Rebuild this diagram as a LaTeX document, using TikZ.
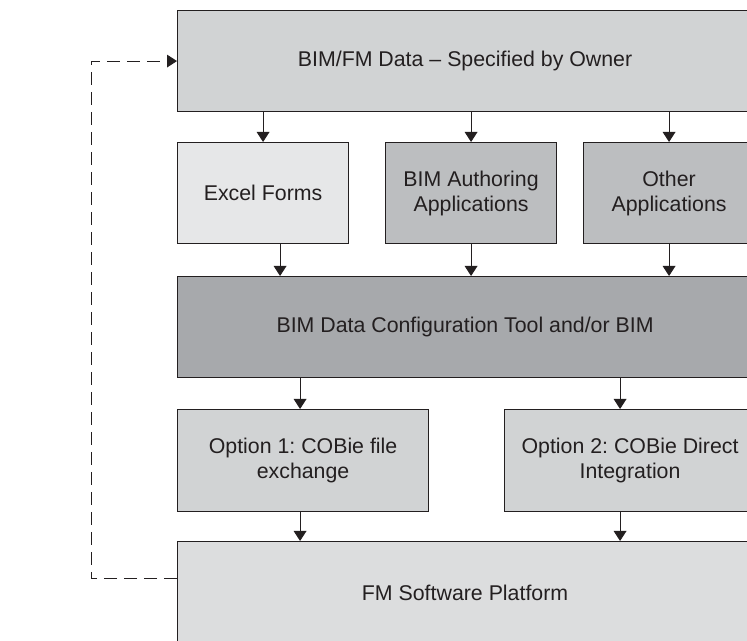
\documentclass[tikz,border=0pt]{standalone}
\usepackage{fontspec}
\setmainfont{Liberation Sans}
\usetikzlibrary{arrows.meta}
\usetikzlibrary{calc}
\frenchspacing
\definecolor{boxline}{RGB}{35,31,32}
\definecolor{txtcol}{RGB}{35,31,32}
\definecolor{ownerfill}{RGB}{209,211,212}
\definecolor{excelfill}{RGB}{230,231,232}
\definecolor{appfill}{RGB}{188,190,192}
\definecolor{configfill}{RGB}{167,169,172}
\definecolor{optionfill}{RGB}{209,211,212}
\definecolor{fmfill}{RGB}{220,221,222}

\begin{document}
\begin{tikzpicture}[x=0.75pt,y=0.75pt,yscale=-1,xscale=1,
  box/.style={draw=boxline, line width=0.85pt, rectangle, inner sep=0pt, anchor=north west,
    minimum height=75.75pt, align=center, text=txtcol, font=\fontsize{16}{18.75}\selectfont},
  arr/.style={draw=boxline, line width=0.75pt, -{Triangle[width=9.5pt,length=7.5pt]}},
  loopline/.style={draw=boxline, line width=0.75pt, dash pattern=on 10pt off 5pt, -{Triangle[width=9.5pt,length=7.5pt]}}]
\useasboundingbox (0,0) rectangle (747,641);
\clip (0,0) rectangle (747,641);
%Shape: Rectangle
\node[box, fill=ownerfill, minimum width=431.25pt] (owner) at (177,10) {BIM/FM Data -- Specified by Owner};
%Shape: Rectangle
\node[box, fill=excelfill, minimum width=128.25pt] (excel) at (177,142) {Excel Forms};
%Shape: Rectangle
\node[box, fill=appfill, minimum width=128.25pt] (authoring) at (385,142) {BIM Authoring\\Applications};
%Shape: Rectangle
\node[box, fill=appfill, minimum width=128.25pt] (otherapps) at (583,142) {Other\\Applications};
%Shape: Rectangle
\node[box, fill=configfill, minimum width=431.25pt] (config) at (177,276) {BIM Data Configuration Tool and/or BIM};
%Shape: Rectangle
\node[box, fill=optionfill, minimum width=188.25pt, minimum height=76.5pt] (optfile) at (177,409) {Option 1: COBie file\\exchange};
%Shape: Rectangle
\node[box, fill=optionfill, minimum width=188.25pt, minimum height=76.5pt] (optdirect) at (504,409) {Option 2: COBie Direct\\Integration};
%Shape: Rectangle
\node[box, fill=fmfill, minimum width=431.25pt, minimum height=76.5pt] (fm) at (177,541) {FM Software Platform};

%Straight Lines
\draw[arr] (owner.south -| excel.north) -- (excel.north);
\draw[arr] (owner.south -| authoring.north) -- (authoring.north);
\draw[arr] (owner.south -| otherapps.north) -- (otherapps.north);

\coordinate (excelout) at ($(excel.south)+(17,0)$);
\draw[arr] (excelout) -- (excelout |- config.north);
\draw[arr] (authoring.south) -- (authoring.south |- config.north);
\draw[arr] (otherapps.south) -- (otherapps.south |- config.north);

\coordinate (fileout) at ($(optfile.north)+(-3,0)$);
\coordinate (directout) at ($(optdirect.north)+(-10,0)$);
\draw[arr] (config.south -| fileout) -- (fileout);
\draw[arr] (config.south -| directout) -- (directout);
\draw[arr] (optfile.south -| fileout) -- (fileout |- fm.north);
\draw[arr] (optdirect.south -| directout) -- (directout |- fm.north);

%Dashed feedback line
\coordinate (fmback) at ($(fm.north west)+(0,38)$);
\draw[loopline] (fmback) -- ++(-86,0) |- (owner.west);
\end{tikzpicture}
\end{document}
